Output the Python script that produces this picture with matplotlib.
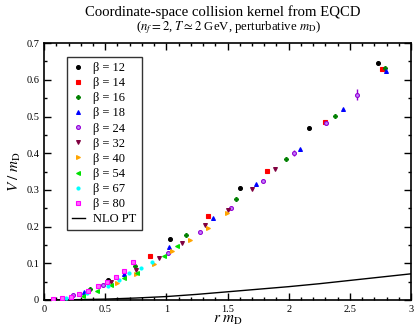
import matplotlib
matplotlib.use("Agg")
import matplotlib.pyplot as plt
from matplotlib.ticker import MultipleLocator

plt.rcParams['font.family'] = ['Liberation Serif', 'DejaVu Serif']
plt.rcParams['mathtext.fontset'] = 'stix'

# beta = 12
x12 = [0.521, 1.030, 1.600, 2.169, 2.731]
y12 = [0.054, 0.165, 0.306, 0.468, 0.645]
# beta = 14
x14 = [0.867, 1.344, 1.823, 2.295, 2.764]
y14 = [0.120, 0.228, 0.351, 0.486, 0.629]
# beta = 16
x16 = [0.376, 0.747, 1.158, 1.572, 1.976, 2.382, 2.785]
y16 = [0.029, 0.093, 0.177, 0.276, 0.383, 0.502, 0.633]
# beta = 18
x18 = [0.330, 0.654, 1.019, 1.382, 1.736, 2.093, 2.445, 2.796]
y18 = [0.021, 0.071, 0.143, 0.223, 0.317, 0.411, 0.520, 0.624]
# beta = 24
x24 = [0.240, 0.480, 1.011, 1.273, 1.532, 1.791, 2.047, 2.306, 2.559]
y24 = [0.012, 0.041, 0.129, 0.186, 0.251, 0.325, 0.401, 0.482, 0.560]
e24 = [0.001, 0.002, 0.003, 0.003, 0.004, 0.004, 0.008, 0.006, 0.014]
# beta = 32
x32 = [0.548, 0.750, 0.938, 1.128, 1.319, 1.507, 1.698, 1.886]
y32 = [0.050, 0.082, 0.114, 0.155, 0.204, 0.244, 0.302, 0.356]
# beta = 40
x40 = [0.594, 0.750, 0.897, 1.047, 1.197, 1.344, 1.494]
y40 = [0.047, 0.070, 0.097, 0.134, 0.163, 0.197, 0.238]
# beta = 54
x54 = [0.316, 0.431, 0.545, 0.654, 0.760, 0.984, 1.090]
y54 = [0.011, 0.025, 0.041, 0.059, 0.074, 0.120, 0.147]
# beta = 67
x67 = [0.180, 0.349, 0.526, 0.616, 0.698, 0.790, 0.880]
y67 = [0.006, 0.018, 0.039, 0.054, 0.074, 0.088, 0.103]
# beta = 80
x80 = [0.071, 0.145, 0.218, 0.289, 0.362, 0.439, 0.512, 0.589, 0.657, 0.730]
y80 = [0.002, 0.005, 0.009, 0.016, 0.025, 0.039, 0.048, 0.062, 0.079, 0.102]

# NLO perturbation theory curve
x_nlo = [0.0, 0.25, 0.5, 0.75, 1.0, 1.25, 1.5, 1.75, 2.0, 2.25, 2.5, 2.75, 3.0]
y_nlo = [0.0, 0.0005, 0.002, 0.005, 0.009, 0.015, 0.022, 0.029, 0.036, 0.044, 0.053, 0.062, 0.071]

fig = plt.figure(figsize=(4.16, 3.27), dpi=100)
ax = fig.add_axes([0.106, 0.083, 0.882, 0.785])

series = [
    (x12, y12, None, 'o', 'black', 'black', 'β = 12'),
    (x14, y14, None, 's', 'red', 'red', 'β = 14'),
    (x16, y16, None, 'P', 'green', 'green', 'β = 16'),
    (x18, y18, None, '^', 'blue', 'blue', 'β = 18'),
    (x24, y24, e24, 'o', '#c080ff', '#9400d3', 'β = 24'),
    (x32, y32, None, 'v', '#800040', '#800040', 'β = 32'),
    (x40, y40, None, '>', 'orange', 'orange', 'β = 40'),
    (x54, y54, None, '<', '#00e000', '#00e000', 'β = 54'),
    (x67, y67, None, 'o', 'cyan', 'cyan', 'β = 67'),
    (x80, y80, None, 's', '#ff66ff', 'magenta', 'β = 80'),
]
handles = []
for xs, ys, es, m, fc, ec, lab in series:
    ms = 2.8 if not (m == 'o' and fc == 'cyan') else 2.2
    if es is not None:
        ax.errorbar(xs, ys, yerr=es, fmt='none', ecolor=ec, elinewidth=1.0,
                    capsize=0, zorder=3)
    h, = ax.plot(xs, ys, ls='none', marker=m, ms=ms, mfc=fc, mec=ec, mew=0.8,
                 label=lab, zorder=4)
    handles.append(h)

ln, = ax.plot(x_nlo, y_nlo, color='black', lw=1.0, label='NLO PT', zorder=2)
handles.append(ln)

ax.set_xlim(0, 3)
ax.set_ylim(0, 0.7)
ax.xaxis.set_major_locator(MultipleLocator(0.5))
ax.xaxis.set_minor_locator(MultipleLocator(0.1))
ax.yaxis.set_major_locator(MultipleLocator(0.1))
ax.yaxis.set_minor_locator(MultipleLocator(0.05))
ax.tick_params(which='both', direction='in', top=True, right=True, labelsize=7.5)
ax.tick_params(which='major', length=5, width=1)
ax.tick_params(which='minor', length=2.5, width=1)
ax.set_xticks([0, 0.5, 1, 1.5, 2, 2.5, 3])
ax.set_xticklabels(['0', '0.5', '1', '1.5', '2', '2.5', '3'])
ax.set_yticks([0, 0.1, 0.2, 0.3, 0.4, 0.5, 0.6, 0.7])
ax.set_yticklabels(['0', '0.1', '0.2', '0.3', '0.4', '0.5', '0.6', '0.7'])
for s in ax.spines.values():
    s.set_linewidth(1.2)

ax.set_xlabel(r'$r\ m_{\rm D}$', fontsize=11, labelpad=0)
ax.set_ylabel(r'$V\ /\ m_{\rm D}$', fontsize=11, labelpad=2)

fig.text(0.535, 0.962, 'Coordinate-space collision kernel from EQCD', ha='center',
         va='center', fontsize=10.6)
fig.text(0.55, 0.915, r'($n_f = 2$, $T \simeq 2$ GeV, perturbative $m_{\rm D}$)',
         ha='center', va='center', fontsize=9.2)

leg = ax.legend(handles=handles, loc='upper left', bbox_to_anchor=(0.063, 0.946),
                fontsize=9, frameon=True, fancybox=False, edgecolor='black',
                borderpad=0.4, labelspacing=0.25, handlelength=1.0,
                handletextpad=0.7, borderaxespad=0)
leg.get_frame().set_linewidth(1.0)

fig.savefig('out.png', dpi=100)
